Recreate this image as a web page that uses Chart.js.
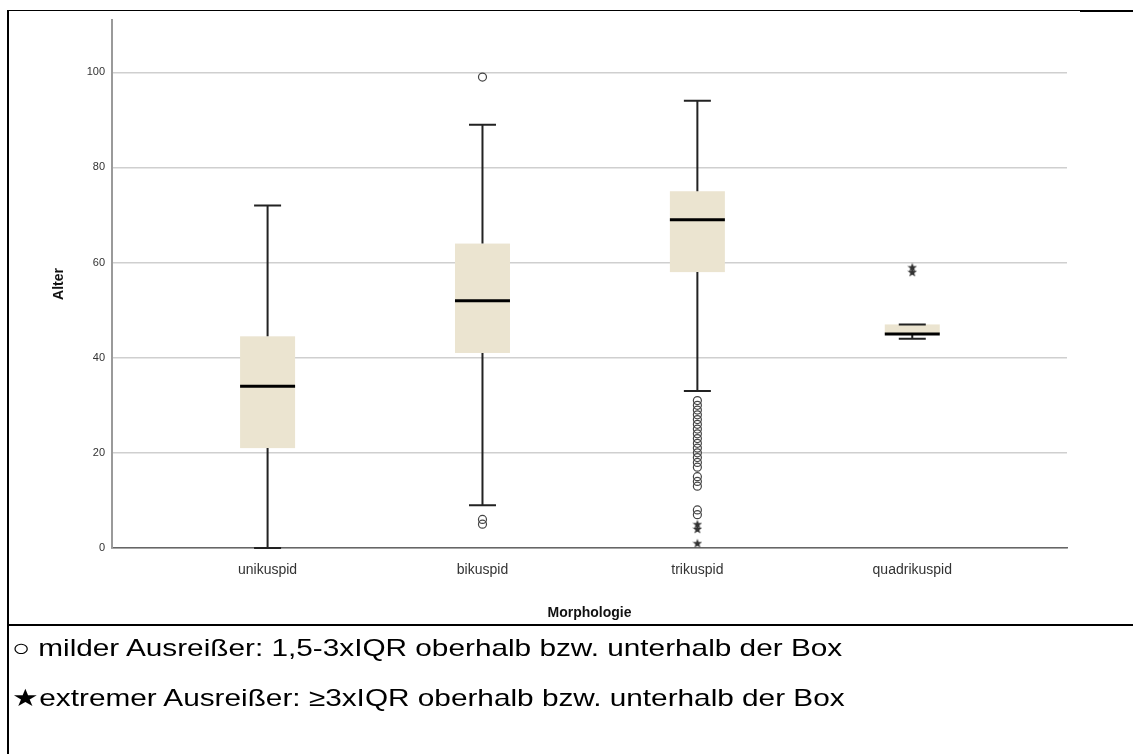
<!DOCTYPE html>
<html>
<head>
<meta charset="utf-8">
<script src="https://cdn.jsdelivr.net/npm/chart.js@4.4.0/dist/chart.umd.min.js"></script>
<style>
  body { margin: 0; background: #fff; }
  #wrap { position: relative; width: 1133px; height: 754px; overflow: hidden; font-family: "Liberation Sans", Arial, sans-serif; }
  #chart { position: absolute; left: 0; top: 0; }
  .line { position: absolute; background: #000; }
  .note { position: absolute; left: 12px; font-size: 24px; line-height: 28px; color: #000; white-space: nowrap; transform: scaleX(1.24); transform-origin: left center; }
</style>
</head>
<body>
<div id="wrap">
  <canvas id="chart" width="1133" height="754"></canvas>
  <div class="line" style="left:8px;top:10px;width:1072px;height:1px;"></div>
  <div class="line" style="left:1080px;top:10px;width:53px;height:2px;"></div>
  <div class="line" style="left:7px;top:10px;width:2px;height:744px;"></div>
  <div class="line" style="left:8px;top:624px;width:1125px;height:2px;"></div>
  <div class="note" style="top:634px;">○ milder Ausreißer: 1,5-3xIQR oberhalb bzw. unterhalb der Box</div>
  <div class="note" style="top:684px;">★extremer Ausreißer: ≥3xIQR oberhalb bzw. unterhalb der Box</div>
</div>
<script>
const categories = ["unikuspid", "bikuspid", "trikuspid", "quadrikuspid"];
const whiskerLow = [0, 9, 33, 44];
const q1 = [21, 41, 58, 45];
const median = [34, 52, 69, 45];
const q3 = [44.5, 64, 75, 47];
const whiskerHigh = [72, 89, 94, 47];
const mildOutliers = [
  [],
  [99, 6, 5],
  [31, 30, 29, 28, 27, 26, 25, 24, 23, 22, 21, 20, 19, 18, 17, 15, 14, 13, 8, 7],
  [],
];
const extremeOutliers = [[], [], [5, 4, 1], [59, 58]];
const yTicks = [0, 20, 40, 60, 80, 100];

// small filled star for the extreme outliers
const star = document.createElement("canvas");
star.width = 10;
star.height = 10;
(function () {
  const c = star.getContext("2d");
  c.fillStyle = "#333";
  c.beginPath();
  for (let k = 0; k < 10; k++) {
    const r = k % 2 === 0 ? 5 : 2.1;
    const a = -Math.PI / 2 + (k * Math.PI) / 5;
    const px = 5 + r * Math.cos(a);
    const py = 5.4 + r * Math.sin(a);
    if (k === 0) c.moveTo(px, py);
    else c.lineTo(px, py);
  }
  c.closePath();
  c.fill();
})();

function points(list) {
  const out = [];
  list.forEach((vals, i) => vals.forEach((v) => out.push({ x: i + 1, y: v })));
  return out;
}

const boxPlugin = {
  id: "boxes",
  beforeDatasetsDraw(chart) {
    const ctx = chart.ctx;
    const xs = chart.scales.x;
    const ys = chart.scales.y;
    ctx.save();
    categories.forEach((c, i) => {
      const x = xs.getPixelForValue(i + 1);
      const top = ys.getPixelForValue(q3[i]);
      const bot = ys.getPixelForValue(q1[i]);
      const half = 27.5;
      const cap = 13.5;
      ctx.fillStyle = "#ebe4d0";
      ctx.fillRect(x - half, top, half * 2, bot - top);
      ctx.strokeStyle = "#222";
      ctx.lineWidth = 2;
      const hi = ys.getPixelForValue(whiskerHigh[i]);
      const lo = ys.getPixelForValue(whiskerLow[i]);
      ctx.beginPath();
      ctx.moveTo(x, top);
      ctx.lineTo(x, hi);
      ctx.moveTo(x - cap, hi);
      ctx.lineTo(x + cap, hi);
      ctx.moveTo(x, bot);
      ctx.lineTo(x, lo);
      ctx.moveTo(x - cap, lo);
      ctx.lineTo(x + cap, lo);
      ctx.stroke();
      const m = ys.getPixelForValue(median[i]);
      ctx.strokeStyle = "#000";
      ctx.lineWidth = 3;
      ctx.beginPath();
      ctx.moveTo(x - half, m);
      ctx.lineTo(x + half, m);
      ctx.stroke();
    });
    ctx.restore();
  },
};

new Chart(document.getElementById("chart"), {
  type: "scatter",
  data: {
    datasets: [
      {
        label: "mild",
        data: points(mildOutliers),
        pointStyle: "circle",
        pointRadius: 4,
        borderColor: "#444",
        backgroundColor: "rgba(0,0,0,0)",
        borderWidth: 1.2,
      },
      {
        label: "extrem",
        data: points(extremeOutliers),
        pointStyle: star,
      },
    ],
  },
  options: {
    responsive: false,
    animation: false,
    layout: { padding: { left: 0, top: 20, right: 66, bottom: 132 } },
    plugins: { legend: { display: false }, tooltip: { enabled: false } },
    scales: {
      x: {
        type: "linear",
        min: 0.276,
        max: 4.72,
        afterBuildTicks: (s) => {
          s.ticks = categories.map((c, i) => ({ value: i + 1 }));
        },
        afterFit: (s) => {
          s.height = 74;
        },
        ticks: {
          callback: (v) => categories[v - 1],
          color: "#333",
          font: { family: "Liberation Sans", size: 14 },
          padding: 14,
          maxRotation: 0,
        },
        grid: { display: false, drawTicks: false },
        border: { color: "#666", width: 1.5 },
        title: {
          display: true,
          text: "Morphologie",
          color: "#111",
          font: { family: "Liberation Sans", size: 14, weight: "bold" },
          padding: { top: 20, bottom: 0 },
        },
      },
      y: {
        min: 0,
        max: 111,
        afterBuildTicks: (s) => {
          s.ticks = yTicks.map((v) => ({ value: v }));
        },
        afterFit: (s) => {
          s.width = 112;
        },
        ticks: {
          color: "#333",
          font: { family: "Liberation Sans", size: 11 },
          padding: 7,
        },
        grid: { color: "#cfcfcf", lineWidth: 1.5, drawTicks: false },
        border: { color: "#9a9a9a", width: 2 },
        title: {
          display: true,
          text: "Alter",
          color: "#111",
          font: { family: "Liberation Sans", size: 14, weight: "bold" },
          padding: { top: 51, bottom: 0 },
        },
      },
    },
  },
  plugins: [boxPlugin],
});
</script>
</body>
</html>
